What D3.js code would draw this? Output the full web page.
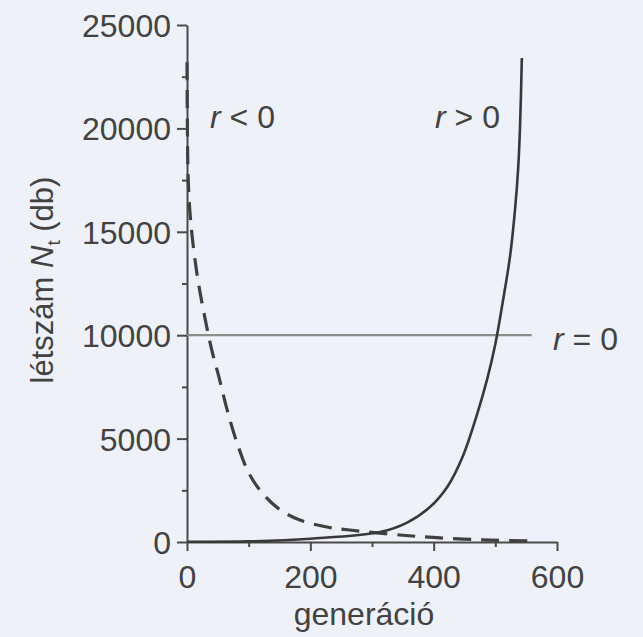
<!DOCTYPE html>
<html>
<head>
<meta charset="utf-8">
<script src="https://cdn.jsdelivr.net/npm/d3@7"></script>
<style>
  body { margin: 0; background: #eef1f7; }
  svg { display: block; }
  text { font-family: "Liberation Sans", Arial, sans-serif; fill: #424242; }
  .axis path, .axis line { stroke: #4a4a4a; stroke-width: 2; }
  .axis text { font-size: 32px; fill: #424242; }
</style>
</head>
<body>
<div class="chart"></div>
<script>
// r > 0 (solid)
const genGrowth = [0, 100, 200, 313, 357, 394, 422, 448, 470, 487, 500, 512, 524, 532, 537, 540, 543];
const nGrowth = [15, 30, 160, 480, 940, 1690, 2660, 4200, 6140, 7900, 9570, 11600, 13850, 16100, 18060, 20040, 23400];

// r < 0 (dashed)
const genDecline = [0, 1, 2, 6, 16, 28, 40, 52, 65, 81, 100, 122, 149, 183, 227, 264, 345, 399, 480, 556];
const nDecline = [23200, 19000, 17500, 15500, 13000, 11000, 9300, 7950, 6400, 4800, 3350, 2370, 1600, 1060, 725, 580, 340, 220, 100, 50];

// r = 0 (flat)
const genFlat = [0, 559];
const nFlat = [10000, 10000];

const xTicks = [0, 200, 400, 600];
const xMinor = [100, 300, 500];
const yTicks = [0, 5000, 10000, 15000, 20000, 25000];
const yMinor = [2500, 7500, 12500, 17500, 22500];

const width = 643, height = 637;

const svg = d3.select('.chart').append('svg')
    .attr('width', width)
    .attr('height', height);

const x = d3.scaleLinear().domain([0, 600]).range([187, 557]);
const y = d3.scaleLinear().domain([0, 25000]).range([542, 25]);

// minor ticks
svg.append('g')
    .attr('class', 'axis')
    .attr('transform', 'translate(0,' + y(0) + ')')
    .call(d3.axisBottom(x).tickValues(xMinor).tickSize(5).tickSizeOuter(0).tickFormat(''))
    .call(g => g.select('.domain').remove());

svg.append('g')
    .attr('class', 'axis')
    .attr('transform', 'translate(' + x(0) + ',0)')
    .call(d3.axisLeft(y).tickValues(yMinor).tickSize(5).tickSizeOuter(0).tickFormat(''))
    .call(g => g.select('.domain').remove());

// main axes
svg.append('g')
    .attr('class', 'axis')
    .attr('transform', 'translate(0,' + y(0) + ')')
    .call(d3.axisBottom(x).tickValues(xTicks).tickSize(9).tickSizeOuter(0).tickPadding(14).tickFormat(d3.format('d')));

svg.append('g')
    .attr('class', 'axis')
    .attr('transform', 'translate(' + x(0) + ',0)')
    .call(d3.axisLeft(y).tickValues(yTicks).tickSize(10).tickSizeOuter(0).tickPadding(6).tickFormat(d3.format('d')))
    .selectAll('text').attr('dy', '0.36em');

const line = d3.line()
    .x(d => x(d[0]))
    .y(d => y(d[1]))
    .curve(d3.curveCatmullRom.alpha(0.5));

svg.append('path')
    .datum(d3.zip(genFlat, nFlat))
    .attr('d', line)
    .attr('fill', 'none')
    .attr('stroke', '#8c8c8c')
    .attr('stroke-width', 2.2);

svg.append('path')
    .datum(d3.zip(genDecline, nDecline))
    .attr('d', line)
    .attr('fill', 'none')
    .attr('stroke', '#404040')
    .attr('stroke-width', 3.2)
    .attr('stroke-dasharray', '18,10');

svg.append('path')
    .datum(d3.zip(genGrowth, nGrowth))
    .attr('d', line)
    .attr('fill', 'none')
    .attr('stroke', '#383838')
    .attr('stroke-width', 2.6);

// curve labels
function rLabel(px, py, rest) {
    const t = svg.append('text')
        .attr('x', px)
        .attr('y', py)
        .style('font-size', '32px');
    t.append('tspan').style('font-style', 'italic').text('r');
    t.append('tspan').text(rest);
}
rLabel(210, 128, ' < 0');
rLabel(435, 128, ' > 0');
rLabel(553, 350, ' = 0');

// axis titles
svg.append('text')
    .attr('x', 364)
    .attr('y', 625)
    .attr('text-anchor', 'middle')
    .style('font-size', '32px')
    .text('generáció');

const yt = svg.append('text')
    .attr('transform', 'translate(53,280) rotate(-90)')
    .attr('text-anchor', 'middle')
    .style('font-size', '31px');
yt.append('tspan').text('létszám ');
yt.append('tspan').style('font-style', 'italic').text('N');
yt.append('tspan').attr('dy', 7).style('font-size', '19px').text('t');
yt.append('tspan').attr('dy', -7).text(' (db)');
</script>
</body>
</html>
